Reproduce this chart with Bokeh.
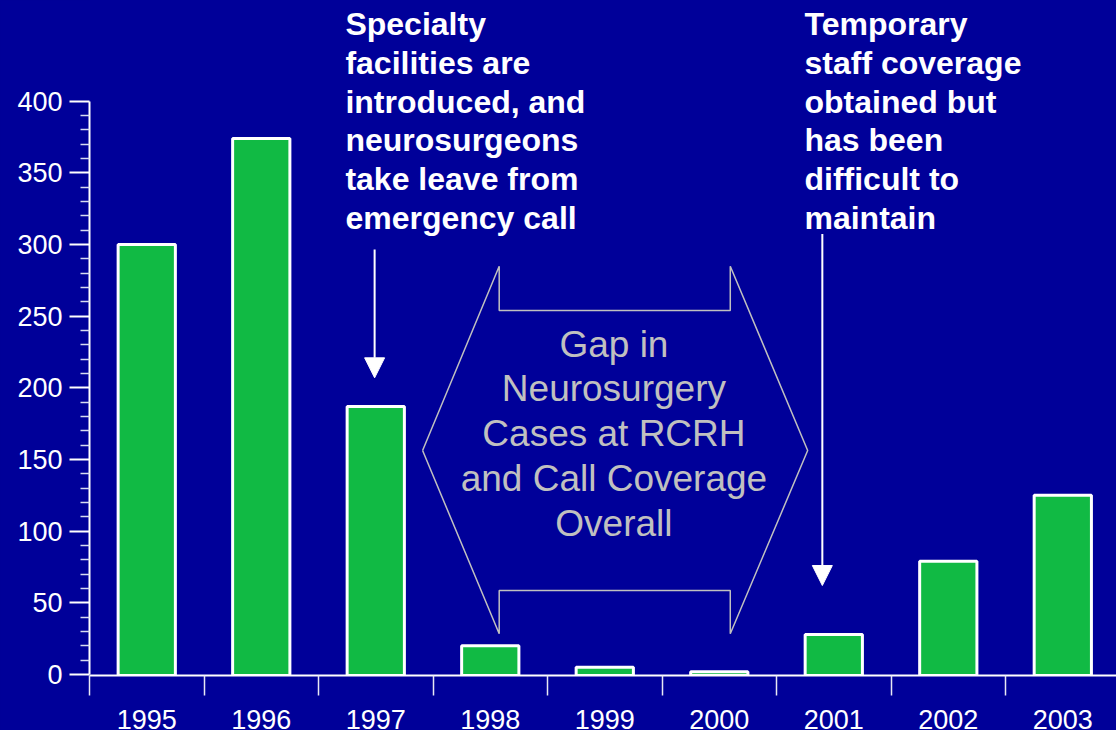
from bokeh.plotting import figure
from bokeh.models import FixedTicker, Range1d, Arrow, NormalHead
from bokeh.core.properties import value
from bokeh.embed import file_html
from bokeh.resources import INLINE

# ---- data ----
years = ["1995", "1996", "1997", "1998", "1999", "2000", "2001", "2002", "2003"]
cases = [300, 374, 187, 20, 5, 2, 28, 79, 125]
y_tick_step = 50
y_minor_step = 10
y_max = 400

note_left = "Specialty\nfacilities are\nintroduced, and\nneurosurgeons\ntake leave from\nemergency call"
note_right = "Temporary\nstaff coverage\nobtained but\nhas been\ndifficult to\nmaintain"
gap_text = "Gap in\nNeurosurgery\nCases at RCRH\nand Call Coverage\nOverall"

# outline of the "gap" callout shape (x in category units, y in case units)
gap_shape_x = [2.909, 3.578, 3.578, 5.596, 5.596, 6.272, 5.596, 5.596, 3.578, 3.578, 2.909]
gap_shape_y = [156.3, 284.9, 253.9, 253.9, 284.9, 156.3, 28.4, 58.6, 58.6, 28.4, 156.3]

BG = "#000099"
GREEN = "#11BA44"
GREY = "#C0C0C0"
FONT = "Liberation Sans"
BAR_BASE = -1.5  # bars run slightly through the axis line, as in the original

n = len(years)
centers = [i + 0.5 for i in range(n)]
major_y = list(range(0, y_max + 1, y_tick_step))
minor_y = [v for v in range(0, y_max + 1, y_minor_step) if v % y_tick_step]

p = figure(
    frame_width=1027, frame_height=675,
    x_range=Range1d(0, 8.969), y_range=Range1d(-0.68, 470.26),
    output_backend="svg", toolbar_location=None,
    min_border_left=89, min_border_right=0, min_border_top=0, min_border_bottom=55,
    background_fill_color=BG, border_fill_color=BG, outline_line_color=None,
)
p.styles = {"background-color": BG}
p.grid.grid_line_color = None

# bars
p.vbar(x=centers, top=cases, bottom=BAR_BASE, width=0.5,
       fill_color=GREEN, line_color="white", line_width=3)

# gap callout
p.line(gap_shape_x, gap_shape_y, line_color=GREY, line_width=1.5)
p.text(x=[4.58], y=[168], text=[gap_text], text_font=value(FONT),
       text_font_size="37px", text_color=GREY, text_align="center",
       text_baseline="middle", text_line_height=1.093)

# notes
i97 = years.index("1997")
i01 = years.index("2001")
p.text(x=[2.235, 6.244], y=[386.2, 386.2], text=[note_left, note_right],
       text_font=value(FONT), text_font_size="32px", text_font_style="bold",
       text_color="white", text_align="left", text_baseline="middle",
       text_line_height=1.075)

p.add_layout(Arrow(end=NormalHead(size=20, fill_color="white", line_color="white"),
                   x_start=centers[i97] - 0.01, y_start=296.6,
                   x_end=centers[i97] - 0.01, y_end=207,
                   line_color="white", line_width=2))
p.add_layout(Arrow(end=NormalHead(size=20, fill_color="white", line_color="white"),
                   x_start=centers[i01] - 0.1, y_start=307.3,
                   x_end=centers[i01] - 0.1, y_end=62.1,
                   line_color="white", line_width=2))

# x axis: boundary ticks, labels at centers
xa = p.xaxis[0]
xa.ticker = FixedTicker(ticks=centers, minor_ticks=list(range(n)))
xa.major_label_overrides = {c: y for c, y in zip(centers, years)}
xa.major_tick_out = 0
xa.major_tick_in = 0
xa.minor_tick_out = 20
xa.minor_tick_in = 0
xa.minor_tick_line_color = "#E8E8F4"
xa.minor_tick_line_width = 1.5
xa.axis_line_color = "white"
xa.axis_line_width = 2
xa.major_label_text_font = FONT
xa.major_label_text_font_size = "27px"
xa.major_label_text_color = "white"
xa.major_label_standoff = 14

ya = p.yaxis[0]
ya.ticker = FixedTicker(ticks=major_y, minor_ticks=minor_y)
ya.bounds = (0, y_max)
ya.major_tick_out = 20
ya.major_tick_in = 0
ya.minor_tick_out = 9
ya.minor_tick_in = 0
ya.major_tick_line_color = "white"
ya.major_tick_line_width = 2
ya.minor_tick_line_color = "#D8DCF0"
ya.minor_tick_line_width = 1.5
ya.axis_line_color = "white"
ya.axis_line_width = 2
ya.major_label_text_font = FONT
ya.major_label_text_font_size = "27px"
ya.major_label_text_color = "white"
ya.major_label_standoff = 7

open("out.html", "w").write(file_html(p, INLINE))
